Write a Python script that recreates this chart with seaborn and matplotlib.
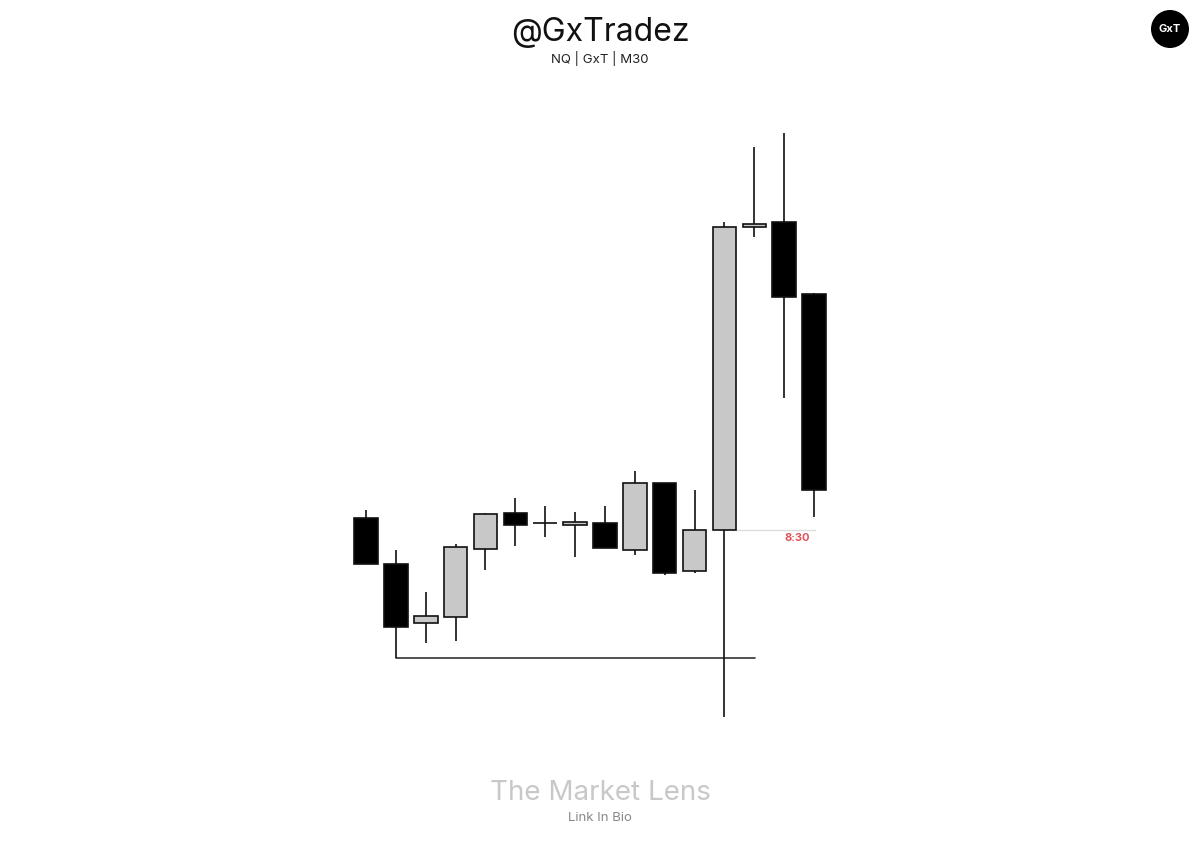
"""
Velas NQ M30 - GxTradez
"""

import numpy as np
import pandas as pd
import matplotlib
matplotlib.use('Agg')
import matplotlib.pyplot as plt
from matplotlib.patches import Ellipse
import seaborn as sns

# Datos OHLC (16 velas de 30 min)
opens = [18382, 18336, 18277, 18283, 18351, 18387, 18377, 18375,
         18377, 18350, 18417, 18329, 18370, 18673, 18678, 18606]
highs = [18390, 18350, 18308, 18356, 18387, 18402, 18394, 18388,
         18394, 18429, 18417, 18410, 18678, 18753, 18767, 18607]
lows = [18336, 18242, 18257, 18259, 18330, 18354, 18363, 18343,
        18352, 18345, 18325, 18327, 18183, 18663, 18502, 18383]
closes = [18336, 18273, 18284, 18353, 18386, 18375, 18377, 18378,
          18352, 18417, 18327, 18370, 18673, 18676, 18603, 18410]

# Niveles marcados
nivel_bajo_idx = 1          # mínimo de la vela 2
nivel_bajo_fin = 13.02
noticia_idx = 12            # vela de las 8:30
noticia_fin = 15.03
noticia_label = '8:30'

df = pd.DataFrame({'open': opens, 'high': highs, 'low': lows, 'close': closes})
df['idx'] = np.arange(len(df))

sns.set_theme(style='white')
plt.rcParams['font.family'] = ['Inter', 'DejaVu Sans']

fig = plt.figure(figsize=(12, 8.47), dpi=100)
ax = fig.add_axes([0, 0, 1, 1])
paso = 29.87
ax.set_xlim(-366 / paso, (1200 - 366) / paso)
ax.set_ylim(18900 - 847, 18900)
ax.axis('off')

# Líneas de referencia
lvl = df['low'][nivel_bajo_idx]
ax.plot([nivel_bajo_idx, nivel_bajo_fin], [lvl, lvl], color='#333333', lw=1.2, zorder=1)
ap = df['open'][noticia_idx]
ax.plot([noticia_idx + 0.4, noticia_fin], [ap, ap], color='#dddddd', lw=1.0, zorder=1)
ax.text(14.45, ap - 8, noticia_label, color='#e0525a', fontsize=8, fontweight='bold',
        ha='center', va='center')

# Mechas
ax.vlines(df['idx'], df['low'], df['high'], color='#111111', lw=1.2, zorder=2)

# Cuerpos
alcista = df['close'] > df['open']
colores = np.where(alcista, '#c8c8c8', '#000000')
bottom = df[['open', 'close']].min(axis=1)
altura = (df['close'] - df['open']).abs()
ax.bar(df['idx'], altura, bottom=bottom, width=0.79, color=colores,
       edgecolor='#111111', linewidth=1.2, zorder=3)

# Textos
fig.text(0.5, 1 - 32 / 847, '@GxTradez', ha='center', va='center', fontsize=23, color='#111111')
fig.text(0.5, 1 - 59 / 847, 'NQ | GxT | M30', ha='center', va='center', fontsize=9.5, color='#222222')
fig.text(0.5, 1 - 793 / 847, 'The Market Lens', ha='center', va='center', fontsize=20, color='#c8c8c8')
fig.text(0.5, 1 - 818 / 847, 'Link In Bio', ha='center', va='center', fontsize=9.5, color='#888888')

# Logo
logo = Ellipse((1170 / 1200, 1 - 29 / 847), 38 / 1200, 38 / 847, transform=fig.transFigure,
               facecolor='black', edgecolor='none')
fig.patches.append(logo)
fig.text(1170 / 1200, 1 - 29.5 / 847, 'GxT', ha='center', va='center', fontsize=8,
         fontweight='bold', color='white')

fig.savefig('out.png', dpi=100, facecolor='white')
